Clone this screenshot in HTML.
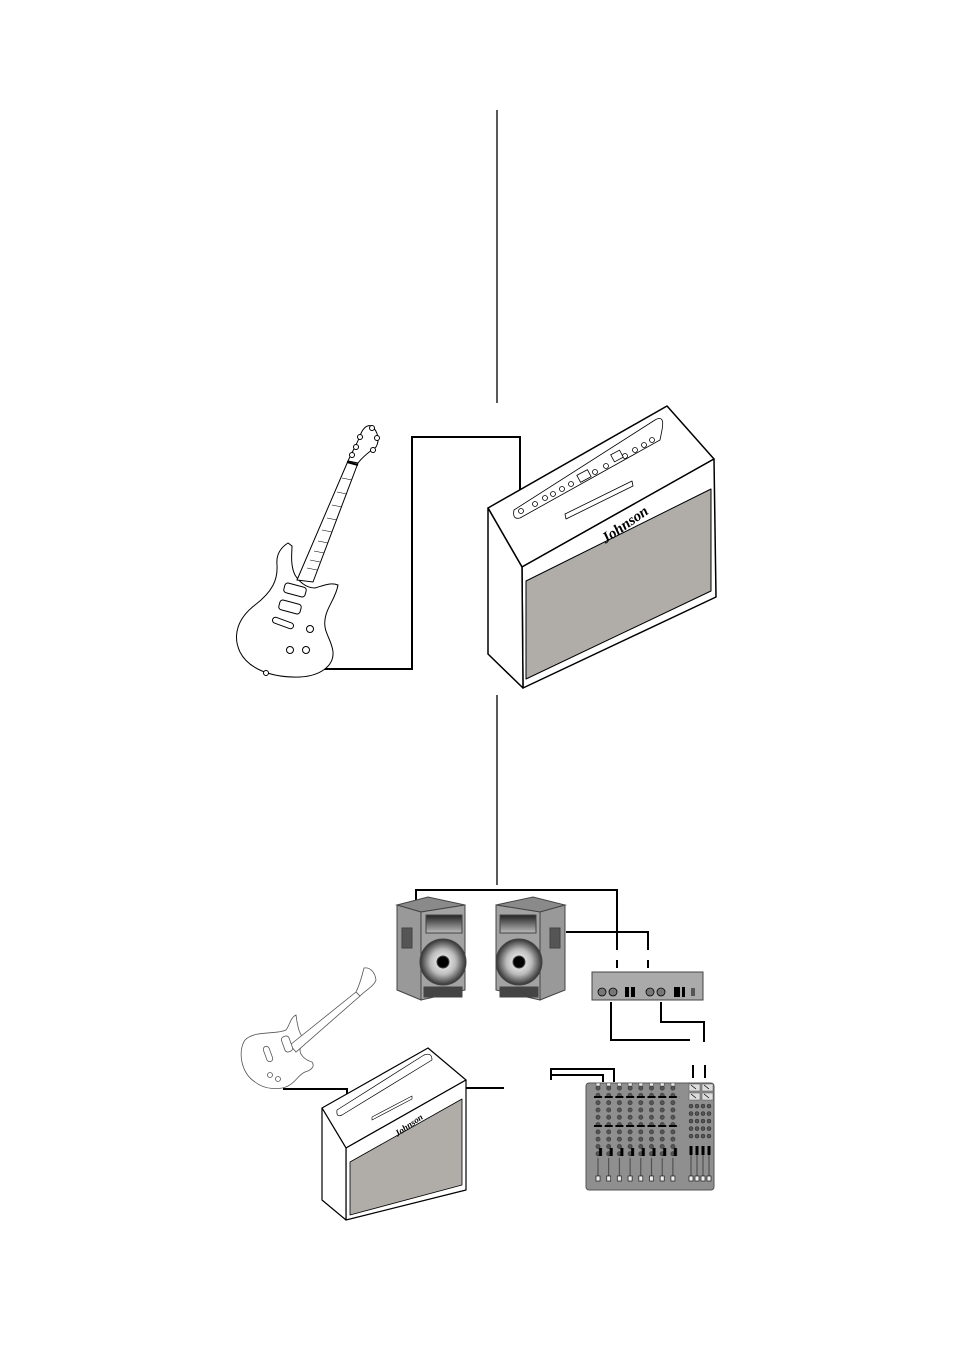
<!DOCTYPE html>
<html><head><meta charset="utf-8"><style>
html,body{margin:0;padding:0;background:#fff;width:954px;height:1350px;overflow:hidden}
svg{display:block}
</style></head><body>
<svg width="954" height="1350" viewBox="0 0 954 1350" xmlns="http://www.w3.org/2000/svg">
<defs>
<radialGradient id="cone" cx="0.5" cy="0.5" r="0.5">
<stop offset="0" stop-color="#fff"/><stop offset="0.55" stop-color="#bbb"/><stop offset="1" stop-color="#333"/>
</radialGradient>
<linearGradient id="horn" x1="0" y1="0" x2="0" y2="1"><stop offset="0" stop-color="#222"/><stop offset="1" stop-color="#bbb"/></linearGradient>
<pattern id="knob" x="594" y="1084.5" width="10.7" height="7.3" patternUnits="userSpaceOnUse">
<circle cx="4" cy="3.6" r="2.1" fill="#555" stroke="#222" stroke-width=".5"/>
</pattern>
<pattern id="knob2" x="688" y="1102.5" width="6" height="7.5" patternUnits="userSpaceOnUse">
<circle cx="3" cy="3.6" r="2" fill="#555" stroke="#222" stroke-width=".5"/>
</pattern>
<pattern id="fader" x="594" y="1146" width="10.7" height="40" patternUnits="userSpaceOnUse">
<line x1="4" y1="12" x2="4" y2="34" stroke="#444"/>
<rect x="5" y="2" width="3" height="8" fill="#000"/>
<rect x="2" y="30" width="4" height="5" fill="#eee" stroke="#000" stroke-width=".6"/>
</pattern>
<pattern id="fader2" x="688" y="1146" width="6" height="40" patternUnits="userSpaceOnUse">
<line x1="3" y1="2" x2="3" y2="34" stroke="#444"/>
<rect x="1.5" y="0" width="3" height="9" fill="#000"/>
<rect x="1" y="30" width="4" height="5" fill="#eee" stroke="#000" stroke-width=".6"/>
</pattern>
<pattern id="bar" x="594" y="1083" width="10.7" height="50" patternUnits="userSpaceOnUse">
<rect x="2" y="0" width="4" height="3" fill="#eee" stroke="#333" stroke-width=".5"/>
<rect x="0" y="13" width="8" height="2" fill="#000"/>
<rect x="0" y="42" width="8" height="2" fill="#000"/>
</pattern>
</defs>
<g fill="none" stroke="#000" stroke-width="1.3">
<line x1="497" y1="110" x2="497" y2="403"/>
<line x1="497" y1="695" x2="497" y2="885"/>
</g>
<polyline points="313,669 412,669 412,437 520,437 520,510" fill="none" stroke="#000" stroke-width="2"/>
<!-- big guitar -->
<g fill="#fff" stroke="#000" stroke-width="1">
<path d="M288,543 C280,548 276,555 277,565 C278,580 272,592 255,605 C238,618 232,635 240,652 C248,668 270,678 300,677 C320,676 334,666 333,652 C332,640 323,632 325,620 C326,608 336,598 338,585 C330,582 322,586 315,588 C305,588 298,580 295,575 C290,565 292,552 292,546 Z"/>
<polygon points="297,580 313,582 358,463 348,461"/>
<path d="M348,461 L358,463 C364,455 372,450 376,447 C380,440 378,432 372,426 C366,424 362,430 360,436 C356,446 352,452 348,461 Z"/>
<circle cx="360" cy="437" r="2.5"/><circle cx="356" cy="447" r="2.5"/><circle cx="352" cy="455" r="2.5"/>
<circle cx="372" cy="428" r="2.5"/><circle cx="377" cy="438" r="2.5"/><circle cx="373" cy="450" r="2.5"/>
<rect x="284" y="585" width="22" height="10" rx="3" transform="rotate(15 295 590)"/>
<rect x="279" y="602" width="22" height="10" rx="3" transform="rotate(15 290 607)"/>
<rect x="272" y="620" width="22" height="6" rx="3" transform="rotate(20 283 623)"/>
<circle cx="310" cy="629" r="3.5"/><circle cx="290" cy="650" r="3.5"/><circle cx="306" cy="650" r="3.5"/>
<circle cx="266" cy="673" r="2.5"/>
</g>
<g stroke="#000" stroke-width="0.6">
<line x1="342" y1="478" x2="352" y2="480"/><line x1="337" y1="492" x2="347" y2="494"/><line x1="332" y1="505" x2="342" y2="507"/>
<line x1="327" y1="518" x2="337" y2="520"/><line x1="322" y1="530" x2="332" y2="532"/><line x1="318" y1="541" x2="328" y2="543"/>
<line x1="314" y1="551" x2="324" y2="553"/><line x1="310" y1="560" x2="320" y2="562"/><line x1="307" y1="568" x2="317" y2="570"/>
<line x1="347" y1="462" x2="358" y2="465" stroke-width="2"/>
</g>
<!-- big amp -->
<g stroke="#000" stroke-width="1.5" stroke-linejoin="round">
<polygon points="488,508 667,406 714,459 522,567" fill="#fff"/>
<polygon points="522,567 714,459 716,597 523,688" fill="#fff"/>
<polygon points="488,508 522,567 523,688 488,654" fill="#fff"/>
<polygon points="526,581 711,489 711,591 526,679" fill="#b0aca7" stroke-width="1"/>
<path d="M514,510 L655,420 Q665,414 662,430 L660,440 L520,518 Q512,520 514,510 Z" fill="#fff" stroke-width="0.8"/>
<polygon points="565,514 632,481 633,486 566,519" fill="#fff" stroke-width="0.8"/>
</g>
<g fill="#fff" stroke="#000" stroke-width="0.8">
<circle cx="521" cy="511" r="2.5"/><circle cx="535" cy="504" r="2.5"/><circle cx="545" cy="498" r="2.5"/><circle cx="553" cy="494" r="2.5"/><circle cx="562" cy="489" r="2.5"/><circle cx="571" cy="484" r="2.5"/><circle cx="595" cy="472" r="2.5"/><circle cx="606" cy="466" r="2.5"/><circle cx="625" cy="456" r="2.5"/><circle cx="635" cy="450" r="2.5"/><circle cx="644" cy="445" r="2.5"/><circle cx="652" cy="440" r="2.5"/>
<rect x="578" y="472" width="12" height="8" transform="rotate(-28 584 476)"/><rect x="612" y="452" width="10" height="8" transform="rotate(-28 617 456)"/>
</g>
<text x="600" y="538" font-family="Liberation Serif, serif" font-style="italic" font-weight="bold" font-size="15" transform="rotate(-35 612 532)">Johnson</text>
<!-- bottom cables -->
<g fill="none" stroke="#000" stroke-width="2">
<polyline points="416,902 416,890 617,890 617,950"/>
<line x1="617" y1="960" x2="617" y2="968"/>
<polyline points="566,932 648,932 648,950"/>
<line x1="648" y1="960" x2="648" y2="968"/>
<polyline points="611,1002 611,1040 690,1040"/>
<polyline points="661,1002 661,1022 704,1022 704,1042"/>
<line x1="693" y1="1065" x2="693" y2="1078"/><line x1="705" y1="1065" x2="705" y2="1078"/>
<line x1="466" y1="1088" x2="504" y2="1088"/>
<polyline points="551,1080 551,1069 614,1069 614,1082"/>
<polyline points="551,1075 603,1075 603,1082"/>
<polyline points="283,1089 347,1089 347,1103"/>
</g>
<!-- speakers -->
<g stroke="#444" stroke-width="1">
<polygon points="397,905 428,897 465,905 421,912" fill="#8a8a8a"/>
<polygon points="397,905 421,912 421,1000 397,990" fill="#999"/>
<polygon points="421,912 465,905 465,990 421,1000" fill="#a3a3a3"/>
<rect x="402" y="928" width="10" height="20" fill="#555"/>
<rect x="426" y="915" width="36" height="18" fill="url(#horn)"/>
<circle cx="443" cy="962" r="23" fill="url(#cone)"/><circle cx="443" cy="962" r="6" fill="#000"/>
<rect x="424" y="987" width="38" height="10" fill="#444"/>
<polygon points="496,905 533,897 565,905 540,912" fill="#8a8a8a"/>
<polygon points="540,912 565,905 565,990 540,1000" fill="#999"/>
<polygon points="496,905 540,912 540,1000 496,990" fill="#a3a3a3"/>
<rect x="550" y="928" width="10" height="20" fill="#555"/>
<rect x="500" y="915" width="36" height="18" fill="url(#horn)"/>
<circle cx="519" cy="962" r="23" fill="url(#cone)"/><circle cx="519" cy="962" r="6" fill="#000"/>
<rect x="500" y="987" width="38" height="10" fill="#444"/>
<rect x="592" y="972" width="111" height="28" fill="#aaa"/>
</g>
<g fill="#777" stroke="#000" stroke-width="0.8">
<circle cx="602" cy="992" r="4"/><circle cx="613" cy="992" r="4"/><circle cx="650" cy="992" r="4"/><circle cx="661" cy="992" r="4"/>
</g>
<g fill="#000"><rect x="625" y="987" width="4" height="10"/><rect x="631" y="987" width="4" height="10"/><rect x="674" y="987" width="6" height="10"/><rect x="682" y="987" width="3" height="10"/><rect x="691" y="988" width="4" height="8" fill="#555"/></g>
<!-- mixer -->
<rect x="586" y="1083" width="128" height="107" rx="3" fill="#8f8f8f" stroke="#555"/>
<rect x="594" y="1084.5" width="85.6" height="73" fill="url(#knob)"/>
<rect x="594" y="1083" width="85.6" height="50" fill="url(#bar)"/>
<rect x="594" y="1146" width="85.6" height="40" fill="url(#fader)"/>
<rect x="688" y="1102.5" width="24" height="37.5" fill="url(#knob2)"/>
<rect x="688" y="1146" width="24" height="40" fill="url(#fader2)"/>
<g fill="#ddd" stroke="#555" stroke-width=".5">
<rect x="689" y="1084" width="11" height="7"/><rect x="702" y="1084" width="11" height="7"/><rect x="689" y="1093" width="11" height="7"/><rect x="702" y="1093" width="11" height="7"/>
</g>
<g stroke="#000" stroke-width=".7"><line x1="691" y1="1085" x2="696" y2="1089"/><line x1="704" y1="1085" x2="709" y2="1089"/><line x1="691" y1="1094" x2="696" y2="1098"/><line x1="704" y1="1094" x2="709" y2="1098"/></g>
<!-- small guitar -->
<g fill="#fff" stroke="#555" stroke-width="0.8">
<path d="M296,1015 C290,1018 290,1025 286,1030 C275,1035 255,1030 245,1040 C238,1050 240,1072 255,1082 C265,1090 280,1090 288,1086 C296,1082 298,1075 305,1072 C312,1070 315,1066 312,1062 C305,1060 300,1055 300,1050 C300,1045 308,1042 308,1040 C300,1038 298,1030 296,1015 Z"/>
<polygon points="290,1045 296,1052 360,996 356,992"/>
<path d="M356,992 L360,996 C366,990 374,986 376,980 C375,972 370,967 364,968 C362,976 360,984 356,992 Z"/>
<rect x="283" y="1036" width="8" height="16" rx="3" transform="rotate(-20 287 1044)"/>
<rect x="265" y="1046" width="6" height="16" rx="3" transform="rotate(-20 268 1054)"/>
<circle cx="270" cy="1075" r="2.5"/><circle cx="278" cy="1079" r="2.5"/>
</g>
<!-- small amp -->
<g stroke="#000" stroke-width="1.2" stroke-linejoin="round" fill="#fff">
<polygon points="322,1108 428,1048 466,1080 346,1148"/>
<polygon points="346,1148 466,1080 466,1190 346,1220"/>
<polygon points="322,1108 346,1148 346,1220 322,1200"/>
<polygon points="350,1162 462,1099 462,1185 350,1215" fill="#b0aca7" stroke-width="0.8"/>
<path d="M337,1110 L424,1055 Q432,1052 432,1060 L342,1115 Q336,1118 337,1110 Z" stroke-width="0.7"/>
<polygon points="372,1117 412,1096 412,1099 372,1120" stroke-width="0.6"/>
</g>
<text x="394" y="1134" font-family="Liberation Serif, serif" font-style="italic" font-weight="bold" font-size="9" transform="rotate(-35 400 1130)">Johnson</text>
</svg>
</body></html>
